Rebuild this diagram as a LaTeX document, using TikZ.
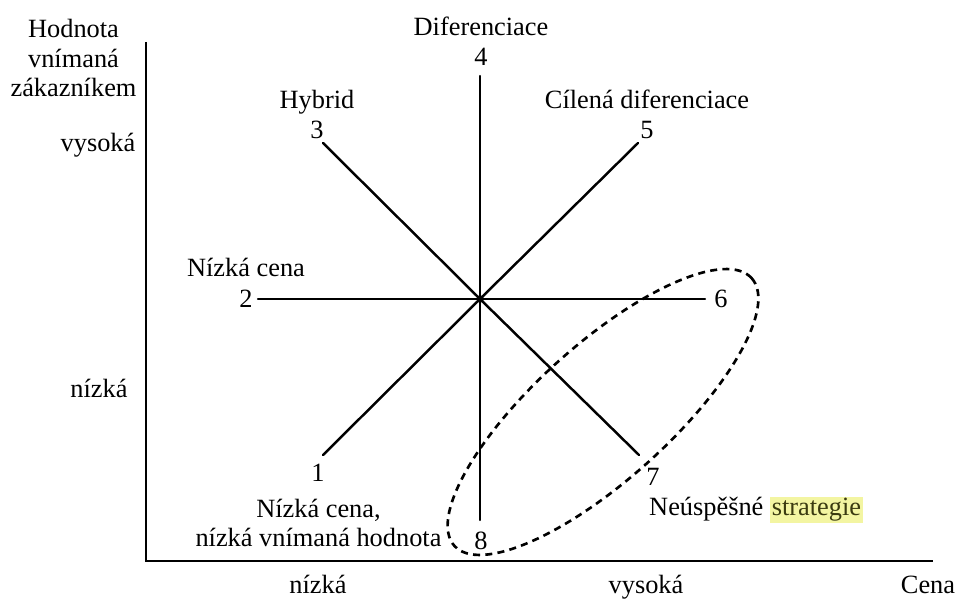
\documentclass[tikz,border=0pt]{standalone}
\usepackage{fontspec}
\setmainfont{Liberation Serif}
\usetikzlibrary{positioning}

\begin{document}
\begin{tikzpicture}[x=1cm,y=1cm]
\tikzset{
  axisline/.style={draw=black,line width=1.5pt},
  strategyline/.style={draw=black,line width=1.4pt,line cap=round},
  block/.style={font=\fontsize{15}{17}\selectfont,inner sep=1pt,align=center},
  label/.style={block,text height=12pt,text depth=2pt},
  failzone/.style={draw=black,line width=1.5pt,dash pattern=on 4pt off 3pt}
}
\useasboundingbox (0,0) rectangle (19.18,11.98);
% axes
\coordinate (o) at (2.92,0.76);
\coordinate (ytop) at (2.92,11.14);
\coordinate (xend) at (18.66,0.76);
\draw[axisline] (ytop) -- (o) -- (xend);
% centre and strategy ends
\coordinate (c) at (9.60,6.00);
\coordinate (e1) at (6.46,2.88);
\coordinate (e2) at (5.16,6.00);
\coordinate (e3) at (6.46,9.12);
\coordinate (e4) at (9.60,10.46);
\coordinate (e5) at (12.76,9.12);
\coordinate (e6) at (14.10,6.00);
\coordinate (e7) at (12.78,2.88);
\coordinate (e8) at (9.60,1.58);
\foreach \i in {1,...,8}
  \draw[strategyline] (c) -- (e\i);
\fill (c) circle (2.2pt);
% numbers
\node[label] (n_1) at (6.36,2.52) {1};
\node[label] (n_2) at (4.92,6.00) {2};
\node[label] (n_3) at (6.34,9.38) {3};
\node[label] (n_4) at (9.62,10.84) {4};
\node[label] (n_5) at (12.94,9.38) {5};
\node[label] (n_6) at (14.42,6.00) {6};
\node[label] (n_7) at (13.06,2.44) {7};
\node[label] (n_8) at (9.62,1.16) {8};
% strategy names
\node[block] (t_low) at (6.37,1.52) {Nízká cena,\\nízká vnímaná hodnota};
\node[label] (t_price) at (4.92,6.62) {Nízká cena};
\node[label] (t_hybrid) at (6.34,9.98) {Hybrid};
\node[label] (t_diff) at (9.62,11.44) {Diferenciace};
\node[label] (t_focus) at (12.94,9.98) {Cílená diferenciace};
\node[label] (t_fail) at (15.12,1.84) {Neúspěšné {\setlength{\fboxsep}{1pt}\colorbox[HTML]{F3F5A2}{\textcolor[HTML]{3A3A10}{strategie}}}};
% failing strategies
\draw[failzone] (12.06,3.74) ellipse[x radius=4.0cm,y radius=1.35cm,rotate=42];
% axis labels
\node[block] (y_title) at (1.47,10.82) {Hodnota\\vnímaná\\zákazníkem};
\node[label] (y_high) at (1.96,9.12) {vysoká};
\node[label] (y_low) at (1.98,4.20) {nízká};
\node[label] (x_low) at (6.36,0.28) {nízká};
\node[label] (x_high) at (12.92,0.28) {vysoká};
\node[label] (x_title) at (18.56,0.28) {Cena};
\end{tikzpicture}
\end{document}
